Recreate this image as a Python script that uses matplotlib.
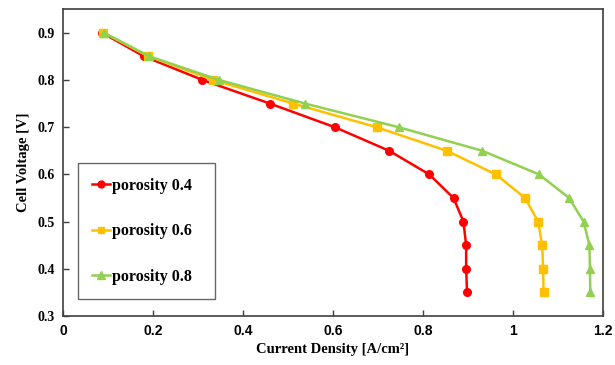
import matplotlib
matplotlib.use('Agg')
import matplotlib.pyplot as plt

# cell voltage levels [V]
voltage = [0.9, 0.85, 0.8, 0.75, 0.7, 0.65, 0.6, 0.55, 0.5, 0.45, 0.4, 0.35]

# current density [A/cm2]
cd_04 = [0.087, 0.18, 0.31, 0.46, 0.604, 0.725, 0.814, 0.868, 0.890, 0.896, 0.896, 0.898]
cd_06 = [0.09, 0.19, 0.334, 0.512, 0.697, 0.853, 0.962, 1.027, 1.056, 1.065, 1.067, 1.068]
cd_08 = [0.091, 0.192, 0.347, 0.538, 0.746, 0.932, 1.058, 1.125, 1.157, 1.170, 1.171, 1.172]

labels = ['porosity 0.4', 'porosity 0.6', 'porosity 0.8']
x_ticks = [0, 0.2, 0.4, 0.6, 0.8, 1, 1.2]
x_tick_labels = ['0', '0.2', '0.4', '0.6', '0.8', '1', '1.2']
y_ticks = [0.3, 0.4, 0.5, 0.6, 0.7, 0.8, 0.9]


def main():
    fig = plt.figure(figsize=(6.15, 3.65), dpi=100)
    ax = fig.add_axes([0.1024, 0.134, 0.878, 0.841])

    ax.plot(cd_04, voltage, color='#FF0000', marker='o', markersize=5.5, linewidth=1.8, label=labels[0])
    ax.plot(cd_06, voltage, color='#FFC000', marker='s', markersize=5.5, linewidth=1.8, label=labels[1])
    ax.plot(cd_08, voltage, color='#92D050', marker='^', markersize=6, linewidth=1.8, label=labels[2])

    ax.set_xlim(0, 1.2)
    ax.set_ylim(0.3, 0.95)
    ax.set_xticks(x_ticks)
    ax.set_xticklabels(x_tick_labels, fontfamily='Liberation Sans', fontweight='bold', fontsize=10)
    ax.set_yticks(y_ticks)
    ax.set_yticklabels([f'{v:.1f}' for v in y_ticks], fontfamily='Liberation Serif',
                       fontweight='bold', fontsize=10)
    ax.tick_params(direction='in', length=4, width=1, pad=6, color='#404040')
    for s in ax.spines.values():
        s.set_color('#404040')
        s.set_linewidth(1.2)

    ax.set_xlabel('Current Density [A/cm²]', fontfamily='Liberation Serif',
                  fontweight='bold', fontsize=10.5, labelpad=3)
    ax.set_ylabel('Cell Voltage [V]', fontfamily='Liberation Serif',
                  fontweight='bold', fontsize=10.5, labelpad=5)

    leg = ax.legend(loc='lower left', bbox_to_anchor=(0.028, 0.055, 0.254, 0.3), mode='expand',
                    frameon=True, fancybox=False,
                    prop={'family': 'Liberation Serif', 'weight': 'bold', 'size': 11.5},
                    handlelength=1.1, handletextpad=0.15, labelspacing=1.85,
                    borderpad=0.9, borderaxespad=0, markerscale=0.9)
    leg.get_frame().set_edgecolor('#404040')
    leg.get_frame().set_linewidth(1.0)

    fig.savefig('out.png', dpi=100)


if __name__ == '__main__':
    main()
